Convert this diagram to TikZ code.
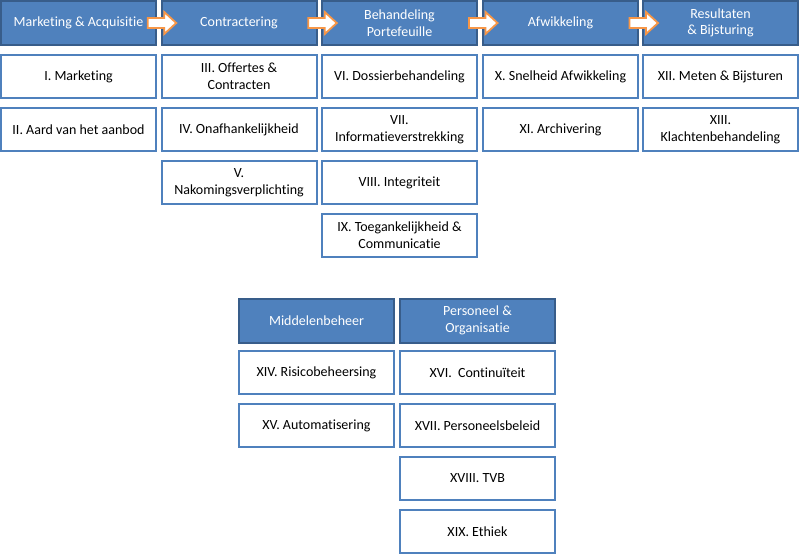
\documentclass[tikz,border=0pt]{standalone}
\usepackage{fontspec}
\setmainfont{Carlito}[Ligatures=NoCommon]
\usetikzlibrary{calc}
\definecolor{hdrfill}{HTML}{4F81BD}
\definecolor{hdrline}{HTML}{385D8A}
\definecolor{itmline}{HTML}{4F81BD}
\definecolor{arrline}{HTML}{F79646}
\begin{document}
\begin{tikzpicture}[x=1pt,y=-1pt,
  hdr/.style={draw=hdrline,fill=hdrfill,line width=2pt,minimum width=155pt,minimum height=44pt,
    inner sep=1pt,align=center,text=white,font=\fontsize{14}{16.5}\selectfont},
  itm/.style={draw=itmline,fill=white,line width=2pt,minimum width=155pt,minimum height=43pt,
    inner sep=1pt,align=center,text=black,font=\fontsize{14}{16.5}\selectfont},
  flow/.style={draw=arrline,fill=white,line width=1.8pt,line join=miter}]
\useasboundingbox (0,0) rectangle (800,556);
% headers
\node[hdr] (h1) at (78.5,23) {Marketing \& Acquisitie};
\node[hdr] (h2) at (239,23) {Contractering};
\node[hdr] (h3) at (399.5,23) {Behandeling\\Portefeuille};
\node[hdr] (h4) at (560.5,23) {Afwikkeling};
\node[hdr] (h5) at (720.5,23) {Resultaten\\\& Bijsturing};
% column 1
\node[itm] (i1) at (78.5,76.5) {I. Marketing};
\node[itm] (i2) at (78.5,129.5) {II. Aard van het aanbod};
% column 2
\node[itm] (i3) at (239,76.5) {III. Offertes \&\\Contracten};
\node[itm] (i4) at (239,129.5) {IV. Onafhankelijkheid};
\node[itm] (i5) at (239,182.5) {V.\\Nakomingsverplichting};
% column 3
\node[itm] (i6) at (399.5,76.5) {VI. Dossierbehandeling};
\node[itm] (i7) at (399.5,129.5) {VII.\\Informatieverstrekking};
\node[itm] (i8) at (399.5,182.5) {VIII. Integriteit};
\node[itm] (i9) at (399.5,235) {IX. Toegankelijkheid \&\\Communicatie};
% column 4
\node[itm] (i10) at (560.5,76.5) {X. Snelheid Afwikkeling};
\node[itm] (i11) at (560.5,129.5) {XI. Archivering};
% column 5
\node[itm] (i12) at (720.5,76.5) {XII. Meten \& Bijsturen};
\node[itm] (i13) at (720.5,129.5) {XIII.\\Klachtenbehandeling};
% bottom groups
\node[hdr] (h6) at (316.5,320.5) {Middelenbeheer};
\node[hdr] (h7) at (477.5,320.5) {Personeel \&\\Organisatie};
\node[itm] (i14) at (316.5,372.5) {XIV. Risicobeheersing};
\node[itm] (i15) at (316.5,425.5) {XV. Automatisering};
\node[itm] (i16) at (477.5,372.5) {XVI.\ \ Continuïteit};
\node[itm] (i17) at (477.5,425.5) {XVII. Personeelsbeleid};
\node[itm] (i18) at (477.5,478.5) {XVIII. TVB};
\node[itm] (i19) at (477.5,531.5) {XIX. Ethiek};
% flow arrows between headers
\foreach \a/\b in {h1/h2,h2/h3,h3/h4,h4/h5}{
  \coordinate (m) at ($(\a.east)!0.5!(\b.west)$);
  \draw[flow] ($(m)+(-11,-5)$) -- ($(m)+(5.5,-5)$) -- ($(m)+(5.5,-11)$) -- ($(m)+(17.5,0)$)
     -- ($(m)+(5.5,11)$) -- ($(m)+(5.5,5)$) -- ($(m)+(-11,5)$) -- cycle;
}
\end{tikzpicture}
\end{document}
